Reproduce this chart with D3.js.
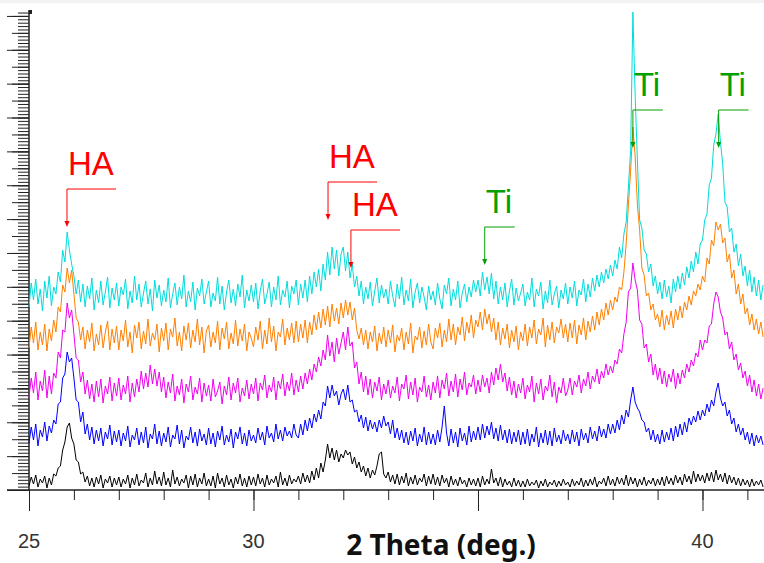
<!DOCTYPE html>
<meta charset="utf-8">
<body style="margin:0;background:#fff">
<script src="https://d3js.org/d3.v7.min.js"></script>
<script>
var width = 764,
    height = 563;

// 2-theta grid of every series: 25.00 .. 41.35 deg, one value per 0.05 deg
var thetaStart = 25,
    thetaStep = 0.05;

// intensity (a.u.), one row per degree
var black = [
  4,13,6,15,3,11,7,14,2,12,5,16,14,22,24,40,48,63,67,52,      // 25
  46,30,28,16,18,8,14,4,12,3,13,6,15,2,11,7,14,3,12,5,        // 26
  13,3,11,6,15,2,12,5,16,4,10,7,17,3,12,5,19,6,13,4,          // 27
  18,5,12,3,20,6,13,4,11,7,15,2,14,5,16,3,12,6,17,4,          // 28
  11,4,14,2,17,6,12,3,15,5,11,2,13,6,16,4,12,3,14,5,          // 29
  13,4,16,6,12,3,15,5,11,7,14,3,18,5,12,4,15,6,11,8,          // 30
  14,6,17,8,15,7,19,10,22,12,27,18,30,46,32,42,30,40,28,36,   // 31
  32,40,35,38,26,33,22,28,18,24,14,22,12,20,15,24,36,38,16,12,// 32
  18,8,15,6,16,5,14,7,17,4,13,6,15,5,12,8,16,4,14,6,          // 33
  16,5,13,4,15,7,12,3,14,5,11,4,13,6,10,3,12,5,11,4,          // 34
  12,3,14,5,11,6,21,7,12,4,13,3,11,5,9,3,12,4,10,3,           // 35
  9,3,11,4,8,5,10,2,9,4,11,3,8,5,10,3,9,4,11,5,               // 36
  8,3,11,4,9,5,12,3,10,4,11,5,13,3,9,6,12,4,14,5,             // 37
  11,4,13,6,12,5,15,4,13,6,12,3,11,5,13,4,10,6,12,4,          // 38
  11,5,13,4,14,6,12,5,15,7,13,5,16,8,14,6,19,8,16,9,          // 39
  15,7,17,9,18,8,20,10,16,8,17,6,15,7,13,5,12,4,11,5,         // 40
  10,3,11,4,9,5,10,3                                          // 41
];

var blue = [
  47,63,50,66,44,60,53,68,49,64,57,70,66,86,88,112,116,138,128,132,
  112,90,88,68,78,56,66,50,63,46,60,49,62,44,58,51,65,45,59,48,
  60,44,57,49,64,43,55,50,62,45,58,47,63,42,56,51,66,46,59,44,
  57,48,63,43,55,51,65,46,60,42,54,50,63,47,58,44,61,49,56,45,
  62,46,57,43,59,50,64,45,55,48,61,42,58,51,63,46,57,44,60,49,
  55,47,62,50,58,45,64,52,57,48,66,51,60,49,63,54,59,52,66,55,
  52,66,55,70,59,72,62,76,68,80,71,88,84,104,92,105,94,99,85,96,
  101,90,105,88,90,78,80,68,75,62,73,59,70,61,68,58,70,62,74,64,
  68,56,70,52,62,50,60,47,58,45,59,49,62,44,56,48,63,45,58,46,
  56,45,60,48,63,84,57,44,61,47,58,43,62,49,57,45,64,48,59,50,
  63,50,66,52,64,55,68,51,62,49,65,50,60,47,61,46,58,48,60,45,
  58,46,61,44,56,48,63,43,57,47,60,45,59,44,62,48,55,46,60,49,
  56,46,60,48,58,44,61,50,57,47,63,51,59,49,64,53,61,52,66,56,
  66,57,70,60,75,66,80,73,90,103,88,82,78,70,68,58,62,50,60,48,
  56,46,60,48,58,50,62,49,64,53,66,55,68,58,72,65,74,68,79,70,
  80,74,86,78,90,84,98,107,92,84,88,74,80,66,72,58,66,55,62,50,
  58,46,57,44,55,47,54,45
];

var magenta = [
  93,112,97,118,90,109,99,120,92,114,96,117,112,138,132,160,158,187,172,180,
  156,132,130,108,118,96,110,91,106,88,109,93,111,87,104,96,113,89,107,94,
  112,90,105,96,114,88,107,93,111,98,119,101,117,103,125,106,121,104,118,98,
  113,92,108,97,116,89,104,95,111,87,106,98,114,90,103,96,112,88,107,94,
  105,89,111,93,99,108,86,104,95,113,90,107,97,112,88,102,94,110,91,106,
  96,112,89,107,100,115,92,105,98,113,90,109,101,116,94,108,99,117,95,110,
  98,114,101,117,106,121,110,126,118,133,124,140,130,155,134,148,128,152,136,147,
  158,140,163,144,148,122,128,106,118,98,114,95,111,92,108,99,113,90,106,96,
  110,92,104,97,113,89,106,101,115,91,108,95,112,88,103,98,114,93,105,90,
  108,97,114,92,110,101,117,94,109,98,116,93,111,100,118,95,107,103,115,96,
  110,98,115,103,112,97,118,105,122,110,126,108,117,99,113,95,109,92,106,97,
  112,91,105,98,114,88,107,96,111,90,104,99,115,93,108,87,103,97,112,94,
  100,112,95,109,103,115,97,111,104,118,101,114,108,121,106,119,112,126,115,124,
  117,130,126,141,137,156,168,198,202,227,210,200,170,166,142,146,128,136,115,126,
  110,122,106,119,103,116,108,121,101,117,106,120,112,126,118,130,124,137,133,150,
  140,150,147,164,166,186,198,193,178,172,155,158,141,148,130,136,120,127,112,119,
  104,115,98,110,94,106,91,102
];

var orange = [
  142,163,147,168,140,158,145,166,139,161,149,170,158,183,178,205,198,222,207,220,
  196,172,168,150,163,141,160,148,167,139,156,145,165,142,158,169,140,161,147,164,
  140,160,149,170,143,158,137,165,152,168,141,159,146,171,144,157,150,166,138,162,
  149,167,140,161,153,172,144,158,139,164,150,167,142,160,148,171,145,163,137,159,
  165,143,158,147,169,140,162,151,168,141,157,146,170,144,161,149,166,139,158,152,
  143,163,150,169,141,160,146,172,148,164,139,158,153,171,145,162,150,167,147,169,
  148,166,152,170,147,168,155,175,160,178,162,181,165,184,163,186,169,182,166,187,
  172,190,175,188,170,182,160,151,162,145,160,141,158,148,164,139,157,146,163,143,
  160,147,165,138,155,149,162,140,158,146,167,137,154,150,163,142,159,145,166,148,
  141,162,152,167,143,160,148,171,150,166,145,163,155,173,149,168,157,175,152,170,
  163,178,160,181,166,176,158,172,150,168,145,162,151,166,142,160,148,164,140,158,
  149,166,144,163,152,170,146,161,155,172,143,165,150,168,147,163,157,171,152,166,
  148,167,152,170,146,165,155,172,150,169,158,174,160,178,165,181,170,187,175,190,
  180,193,188,203,200,218,246,285,320,363,334,285,260,222,215,194,197,180,186,170,
  176,163,180,160,175,165,179,162,181,170,184,172,188,180,194,185,199,194,206,200,
  214,208,232,226,250,244,268,260,266,247,252,228,236,212,220,196,206,186,196,176,
  182,165,176,160,171,156,168,153
];

var cyan = [
  183,207,190,211,186,201,179,209,192,214,184,203,196,218,208,240,228,258,240,226,
  214,196,210,188,206,183,204,191,212,180,200,187,209,185,198,213,182,202,190,207,
  184,203,195,211,181,199,187,214,190,206,183,197,209,186,201,179,210,192,205,184,
  200,188,212,182,196,207,185,203,191,215,183,199,188,208,180,202,194,211,186,198,
  209,183,197,189,213,186,204,180,198,210,187,201,184,206,193,215,182,200,189,205,
  188,207,181,199,211,186,196,208,183,203,190,214,185,200,193,209,182,204,196,210,
  185,206,192,210,188,214,196,218,203,221,199,226,210,238,215,243,221,240,214,236,
  243,219,238,212,226,203,214,194,209,186,203,191,208,184,199,212,187,205,192,201,
  186,209,194,183,206,191,213,185,200,189,211,182,198,207,187,203,193,180,204,190,
  199,185,207,191,181,205,196,212,184,201,190,209,182,197,206,188,203,193,210,198,
  210,194,218,200,213,196,217,191,209,186,203,190,207,183,199,211,185,202,189,197,
  206,184,198,190,212,183,201,194,208,181,199,187,210,185,196,204,182,200,191,207,
  186,203,192,209,184,200,195,211,188,206,193,212,199,215,203,218,207,221,211,225,
  214,230,221,243,232,256,268,303,340,478,395,330,270,262,240,236,218,226,204,214,
  196,208,191,210,193,204,187,211,198,214,201,217,205,223,212,229,218,238,226,246,
  250,270,276,305,312,345,356,376,348,326,288,283,258,262,238,246,224,236,214,224,
  204,220,198,213,194,210,190,205
];

var series = [
  {name: "black",   color: "#000000", values: black},
  {name: "blue",    color: "#0000ff", values: blue},
  {name: "magenta", color: "#f000f0", values: magenta},
  {name: "orange",  color: "#ff7f00", values: orange},
  {name: "cyan",    color: "#00dcdc", values: cyan}
];

// peak labels: text, 2-theta of arrow tip, intensity of arrow tip
var annLabels = ["HA", "HA", "HA", "Ti", "Ti", "Ti"];
var annTheta  = [25.846, 31.66, 32.17, 35.15, 38.45, 40.36];
var annTip    = [263, 270, 222, 225, 342, 342];

var xTickLabels = [25, 30, 40];
var xMinorTicks = d3.range(25, 42);
var xMajorTicks = [25, 30, 35, 40];

var x = d3.scaleLinear().domain([25, 41.37]).range([29, 764]);
var y = d3.scaleLinear().domain([0, 480]).range([490, 10]);

var svg = d3.select("body").append("svg")
    .attr("width", width)
    .attr("height", height)
    .style("display", "block")
    .style("font-family", "'Liberation Sans', Arial, sans-serif");

svg.append("rect").attr("width", width).attr("height", 3).attr("fill", "#f2f2f2");

// y axis: minor / medium / long ticks, no labels
var yStep = 480 / 141.75;
var yMinor = d3.range(0, 142).map(function(i) { return i * yStep; });
var yMed = yMinor.filter(function(d, i) { return i % 5 == 0; });
var yLong = yMinor.filter(function(d, i) { return i % 10 == 0; });

[[yMinor, 11], [yMed, 17], [yLong, 22]].forEach(function(t) {
  var g = svg.append("g")
      .attr("transform", "translate(" + x(25) + ",0)")
      .call(d3.axisLeft(y).tickValues(t[0]).tickSize(t[1]).tickFormat(""));
  g.select(".domain").remove();
  g.selectAll("line").attr("stroke", "#222");
});

// x axis
[[xMinorTicks, 10], [xMajorTicks, 21]].forEach(function(t) {
  var g = svg.append("g")
      .attr("transform", "translate(0," + y(0) + ")")
      .call(d3.axisBottom(x).tickValues(t[0]).tickSize(t[1]).tickFormat(""));
  g.select(".domain").remove();
  g.selectAll("line").attr("stroke", "#222");
});

svg.append("line")
    .attr("x1", x(25) - 22).attr("x2", width)
    .attr("y1", y(0)).attr("y2", y(0))
    .attr("stroke", "#222").attr("stroke-width", 1.3);

svg.append("line")
    .attr("x1", x(25)).attr("x2", x(25))
    .attr("y1", y(0)).attr("y2", y(480))
    .attr("stroke", "#222").attr("stroke-width", 1.5);

svg.append("path")
    .attr("d", "M" + x(25) + "," + y(480) + "h3v4h-3z")
    .attr("fill", "#222");

svg.selectAll(".xlab")
    .data(xTickLabels)
  .enter().append("text")
    .attr("class", "xlab")
    .attr("x", function(d) { return x(d); })
    .attr("y", 548)
    .attr("text-anchor", "middle")
    .attr("font-size", 20)
    .attr("fill", "#333")
    .text(function(d) { return d; });

svg.append("text")
    .attr("x", 441)
    .attr("y", 555)
    .attr("text-anchor", "middle")
    .attr("font-family", "'Noto Sans', sans-serif")
    .attr("font-weight", "bold")
    .attr("font-size", 28)
    .attr("fill", "#111")
    .text("2 Theta (deg.)");

// traces
var line = d3.line()
    .x(function(d, i) { return x(thetaStart + i * thetaStep); })
    .y(function(d) { return y(d); });

svg.selectAll(".trace")
    .data(series)
  .enter().append("path")
    .attr("class", "trace")
    .attr("fill", "none")
    .attr("stroke", function(d) { return d.color; })
    .attr("stroke-width", 1)
    .attr("d", function(d) { return line(d.values); });

// peak labels
annLabels.forEach(function(label, i) {
  var col = label == "HA" ? "#ff0000" : "#00a000";
  var len = label == "HA" ? 49 : 30;
  var tx = x(annTheta[i]), ty = y(annTip[i]), by = ty - 38;
  var g = svg.append("g");
  g.append("path")
      .attr("d", "M" + (tx + len) + "," + by + "H" + tx + "V" + (ty - 4))
      .attr("fill", "none")
      .attr("stroke", col)
      .attr("stroke-width", 1);
  g.append("path")
      .attr("d", "M" + (tx - 2.5) + "," + (ty - 6) + "L" + (tx + 2.5) + "," + (ty - 6) + "L" + tx + "," + ty + "Z")
      .attr("fill", col);
  g.append("text")
      .attr("x", tx + 1)
      .attr("y", by - 14)
      .attr("font-size", 33)
      .attr("fill", col)
      .text(label);
});
</script>
